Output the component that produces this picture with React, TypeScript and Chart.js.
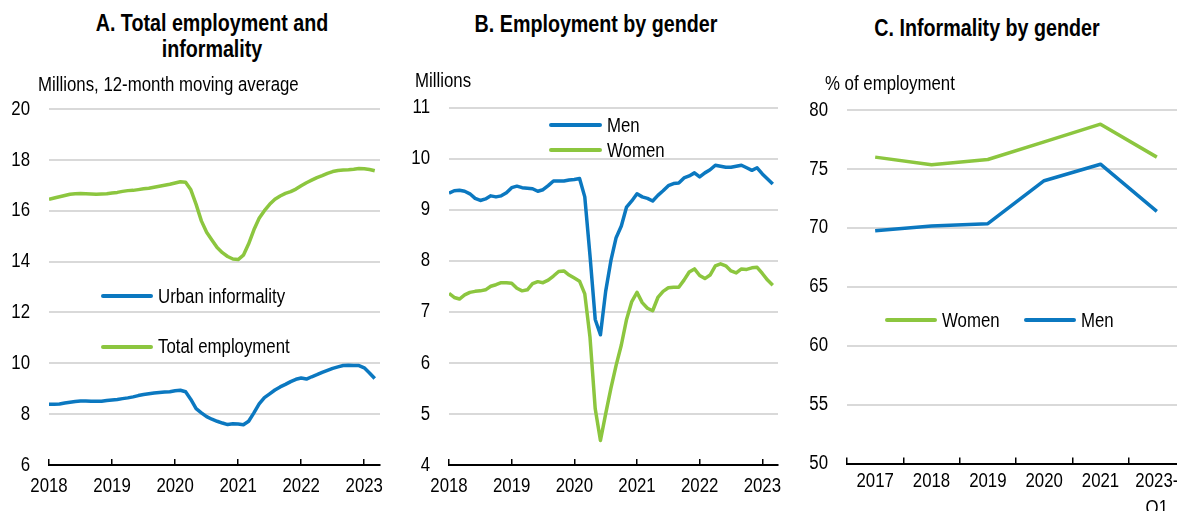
import React, { useEffect, useRef } from "react";
import { Chart, registerables } from "chart.js";

Chart.register(...registerables);

const BASE_FONT = '"Liberation Sans", Arial, "Helvetica Neue", sans-serif';
const SX = 0.82; // horizontal condensing to mimic a narrow face
const TICK_SIZE = 20.5;
const BLUE = "#0b78c0";
const GREEN = "#8cc63f";
const GRID = "#d9d9d9";

// ---------- data ----------
const yearTicks = [2018, 2019, 2020, 2021, 2022, 2023];
// monthly observations, Jan 2018 .. Mar 2023 (position in years)
const months = Array.from({ length: 63 }, (_, i) => 2018 + i / 12);

// Panel A (millions, 12-month moving average)
const totalEmployment = [
  16.45, 16.5, 16.55, 16.6, 16.65, 16.67, 16.68, 16.67, 16.66, 16.65, 16.66, 16.67,
  16.7, 16.72, 16.76, 16.79, 16.8, 16.83, 16.86, 16.88, 16.92, 16.96, 17.0, 17.04,
  17.09, 17.14, 17.12, 16.82, 16.25, 15.6, 15.15, 14.85, 14.55, 14.35, 14.2, 14.1,
  14.08, 14.25, 14.7, 15.25, 15.7, 16.0, 16.25, 16.45, 16.58, 16.68, 16.75, 16.85,
  16.98, 17.1, 17.2, 17.3, 17.38, 17.47, 17.54, 17.58, 17.6, 17.61, 17.63, 17.66,
  17.65, 17.62, 17.57,
];
const urbanInformality = [
  8.39, 8.39, 8.4, 8.44, 8.47, 8.5, 8.52, 8.52, 8.51, 8.51, 8.51, 8.54,
  8.56, 8.58, 8.61, 8.64, 8.68, 8.73, 8.77, 8.8, 8.83, 8.85, 8.87, 8.88,
  8.92, 8.94, 8.88, 8.58, 8.22, 8.05, 7.9, 7.8, 7.72, 7.65, 7.59, 7.62,
  7.61, 7.58, 7.72, 8.05, 8.4, 8.65, 8.8, 8.95, 9.07, 9.17, 9.28, 9.37,
  9.42, 9.38, 9.47, 9.55, 9.64, 9.72, 9.8, 9.86, 9.91, 9.92, 9.91, 9.91,
  9.82, 9.62, 9.4,
];

// Panel B (millions)
const menEmployment = [
  9.32, 9.37, 9.38, 9.36, 9.31, 9.22, 9.18, 9.21, 9.27, 9.25, 9.27, 9.33,
  9.43, 9.46, 9.43, 9.42, 9.41, 9.36, 9.39, 9.47, 9.56, 9.56, 9.56, 9.58,
  9.59, 9.61, 9.25, 8.1, 6.85, 6.55, 7.4, 8.0, 8.45, 8.68, 9.05, 9.17,
  9.31, 9.25, 9.22, 9.17, 9.28, 9.37, 9.47, 9.51, 9.52, 9.62, 9.66, 9.72,
  9.64, 9.72, 9.78, 9.87, 9.85, 9.83, 9.83, 9.85, 9.87, 9.82, 9.77, 9.82,
  9.7, 9.6, 9.5,
];
const womenEmployment = [
  7.36, 7.28, 7.25, 7.33, 7.38, 7.4, 7.41, 7.43, 7.5, 7.53, 7.57, 7.57,
  7.56, 7.46, 7.41, 7.43, 7.55, 7.59, 7.57, 7.62, 7.7, 7.79, 7.8, 7.72,
  7.66, 7.6, 7.35, 6.5, 5.1, 4.48, 5.0, 5.5, 5.95, 6.35, 6.85, 7.2,
  7.38, 7.18, 7.07, 7.02, 7.28, 7.4, 7.47, 7.48, 7.48, 7.62, 7.78, 7.84,
  7.71, 7.65, 7.72, 7.9, 7.94, 7.9, 7.8, 7.76, 7.84, 7.83, 7.86, 7.87,
  7.75, 7.62, 7.52,
];

// Panel C (% of employment)
const informalityPeriods: (string | string[])[] = ["2017", "2018", "2019", "2020", "2021", ["2023-", "Q1"]];
const womenInformality = [76.0, 75.35, 75.8, 77.3, 78.8, 76.0];
const menInformality = [69.75, 70.15, 70.35, 74.0, 75.4, 71.4];

// ---------- helpers ----------
// draws tick labels in a condensed face using the library's own scale positions
const narrowTicksPlugin = {
  id: "narrowTicks",
  afterDraw(chart: any, _args: any, opts: any) {
    const ctx = chart.ctx;
    const area = chart.chartArea;
    const xs = chart.scales.x;
    const ys = chart.scales.y;
    ctx.save();
    ctx.fillStyle = "#000";
    ctx.font = `${TICK_SIZE}px ${BASE_FONT}`;
    ctx.textBaseline = "middle";
    ctx.textAlign = "center";
    xs.ticks.forEach((t: any, i: number) => {
      const px = xs.getPixelForTick(i);
      const lbl = opts.xLabels ? opts.xLabels[i] : String(t.value);
      const lines = Array.isArray(lbl) ? lbl : [lbl];
      lines.forEach((line: string, j: number) => {
        ctx.save();
        ctx.translate(px, area.bottom + opts.xFirst + j * opts.lineHeight);
        ctx.scale(SX, 1);
        ctx.fillText(line, 0, 0);
        ctx.restore();
      });
    });
    ctx.textAlign = "right";
    ys.ticks.forEach((t: any, i: number) => {
      const py = ys.getPixelForTick(i);
      ctx.save();
      ctx.translate(area.left - opts.yGap, py);
      ctx.scale(SX, 1);
      ctx.fillText(String(t.value), 0, 0);
      ctx.restore();
    });
    ctx.restore();
  },
};

function zeroPad(s: any) {
  s.paddingLeft = 0;
  s.paddingRight = 0;
  s.paddingTop = 0;
  s.paddingBottom = 0;
}

function timeSeriesConfig(p: {
  series: { values: number[]; color: string }[];
  yMin: number;
  yMax: number;
  yStep: number;
  yAxisWidth: number;
  padTop: number;
  padRight: number;
  xAxisHeight: number;
}): any {
  return {
    type: "line",
    data: {
      datasets: p.series.map((s) => ({
        data: s.values.map((v, i) => ({ x: months[i], y: v })),
        borderColor: s.color,
        borderWidth: 3.5,
        pointRadius: 0,
        tension: 0,
        borderJoinStyle: "round",
        fill: false,
      })),
    },
    plugins: [narrowTicksPlugin],
    options: {
      responsive: false,
      animation: false,
      events: [],
      layout: { padding: { top: p.padTop, right: p.padRight, left: 0, bottom: 0 } },
      plugins: {
        legend: { display: false },
        tooltip: { enabled: false },
        title: { display: false },
        narrowTicks: { xFirst: 21, lineHeight: 26, yGap: 19 },
      },
      scales: {
        x: {
          type: "linear",
          min: 2018,
          max: 2023.25,
          afterBuildTicks: (s: any) => {
            s.ticks = yearTicks.map((v) => ({ value: v }));
          },
          afterFit: (s: any) => {
            s.height = p.xAxisHeight;
            zeroPad(s);
          },
          grid: { display: true, drawOnChartArea: false, drawTicks: true, tickLength: -6, color: "#000", lineWidth: 1.5 },
          border: { display: true, color: "#000", width: 2 },
          ticks: { display: false },
        },
        y: {
          min: p.yMin,
          max: p.yMax,
          afterFit: (s: any) => {
            s.width = p.yAxisWidth;
            zeroPad(s);
          },
          grid: { color: GRID, lineWidth: 2, drawTicks: false },
          border: { display: false },
          ticks: { stepSize: p.yStep, display: false },
        },
      },
    },
  };
}

function categoryConfig(): any {
  return {
    type: "line",
    data: {
      labels: informalityPeriods,
      datasets: [
        { data: womenInformality, borderColor: GREEN, borderWidth: 3.5, pointRadius: 0, tension: 0, fill: false, borderJoinStyle: "round" },
        { data: menInformality, borderColor: BLUE, borderWidth: 3.5, pointRadius: 0, tension: 0, fill: false, borderJoinStyle: "round" },
      ],
    },
    plugins: [narrowTicksPlugin],
    options: {
      responsive: false,
      animation: false,
      events: [],
      layout: { padding: { top: 20, right: 5, left: 0, bottom: 0 } },
      plugins: {
        legend: { display: false },
        tooltip: { enabled: false },
        narrowTicks: { xFirst: 18, lineHeight: 27, yGap: 19, xLabels: informalityPeriods },
      },
      scales: {
        x: {
          type: "category",
          offset: true,
          afterFit: (s: any) => {
            s.height = 47.5;
            zeroPad(s);
          },
          grid: { display: true, offset: true, drawOnChartArea: false, drawTicks: true, tickLength: -6, color: "#000", lineWidth: 1.5 },
          border: { display: true, color: "#000", width: 2 },
          ticks: { display: false, autoSkip: false },
        },
        y: {
          min: 50,
          max: 80,
          afterFit: (s: any) => {
            s.width = 57;
            zeroPad(s);
          },
          grid: { color: GRID, lineWidth: 2, drawTicks: false },
          border: { display: false },
          ticks: { stepSize: 5, display: false },
        },
      },
    },
  };
}

function ChartCanvas(props: { left: number; top: number; width: number; height: number; build: () => any }) {
  const ref = useRef<HTMLCanvasElement | null>(null);
  useEffect(() => {
    if (!ref.current) return;
    const chart = new Chart(ref.current, props.build());
    return () => chart.destroy();
  }, []);
  return (
    <canvas
      ref={ref}
      width={props.width}
      height={props.height}
      style={{ position: "absolute", left: props.left, top: props.top, width: props.width, height: props.height }}
    />
  );
}

function Label(props: { x: number; y: number; text: string; size?: number; bold?: boolean; center?: boolean }) {
  const size = props.size ?? 20.5;
  const style: React.CSSProperties = {
    position: "absolute",
    top: props.y - size * 0.59,
    font: `${props.bold ? "bold " : ""}${size}px ${BASE_FONT}`,
    lineHeight: `${size * 1.2}px`,
    whiteSpace: "nowrap",
    color: "#000",
    transform: `scaleX(${SX})`,
  };
  if (props.center) {
    style.left = props.x - 250;
    style.width = 500;
    style.textAlign = "center";
    style.transformOrigin = "50% 50%";
  } else {
    style.left = props.x;
    style.transformOrigin = "0 50%";
  }
  return <div style={style}>{props.text}</div>;
}

function LegendItem(props: { x: number; y: number; len: number; color: string; text: string }) {
  return (
    <>
      <div
        style={{
          position: "absolute",
          left: props.x,
          top: props.y - 2,
          width: props.len,
          height: 4,
          borderRadius: 2,
          background: props.color,
        }}
      />
      <Label x={props.x + props.len + 5} y={props.y} text={props.text} />
    </>
  );
}

export default function App() {
  return (
    <div
      style={{
        position: "fixed",
        left: 0,
        top: 0,
        width: 1177,
        height: 511,
        overflow: "hidden",
        background: "#fff",
      }}
    >
      {/* Panel A */}
      <ChartCanvas
        left={0}
        top={90}
        width={390}
        height={421}
        build={() =>
          timeSeriesConfig({
            series: [
              { values: totalEmployment, color: GREEN },
              { values: urbanInformality, color: BLUE },
            ],
            yMin: 6,
            yMax: 20,
            yStep: 2,
            yAxisWidth: 49,
            padTop: 19,
            padRight: 10,
            xAxisHeight: 46,
          })
        }
      />
      {/* Panel B */}
      <ChartCanvas
        left={390}
        top={90}
        width={400}
        height={421}
        build={() =>
          timeSeriesConfig({
            series: [
              { values: womenEmployment, color: GREEN },
              { values: menEmployment, color: BLUE },
            ],
            yMin: 4,
            yMax: 11,
            yStep: 1,
            yAxisWidth: 59,
            padTop: 17.5,
            padRight: 12,
            xAxisHeight: 46,
          })
        }
      />
      {/* Panel C */}
      <ChartCanvas left={790} top={90} width={400} height={421} build={categoryConfig} />

      {/* Titles */}
      <Label x={212} y={23.5} text="A. Total employment and" size={24} bold center />
      <Label x={212} y={49.5} text="informality" size={24} bold center />
      <Label x={596} y={24} text="B. Employment by gender" size={24} bold center />
      <Label x={987} y={28} text="C. Informality by gender" size={24} bold center />

      {/* Units */}
      <Label x={38} y={84} text="Millions, 12-month moving average" />
      <Label x={415} y={80} text="Millions" />
      <Label x={825} y={83.5} text="% of employment" />

      {/* Legends */}
      <LegendItem x={101} y={296} len={52} color={BLUE} text="Urban informality" />
      <LegendItem x={101} y={346.5} len={52} color={GREEN} text="Total employment" />
      <LegendItem x={549} y={125} len={53} color={BLUE} text="Men" />
      <LegendItem x={549} y={150} len={53} color={GREEN} text="Women" />
      <LegendItem x={885} y={320} len={52} color={GREEN} text="Women" />
      <LegendItem x={1024} y={320} len={52} color={BLUE} text="Men" />
    </div>
  );
}
